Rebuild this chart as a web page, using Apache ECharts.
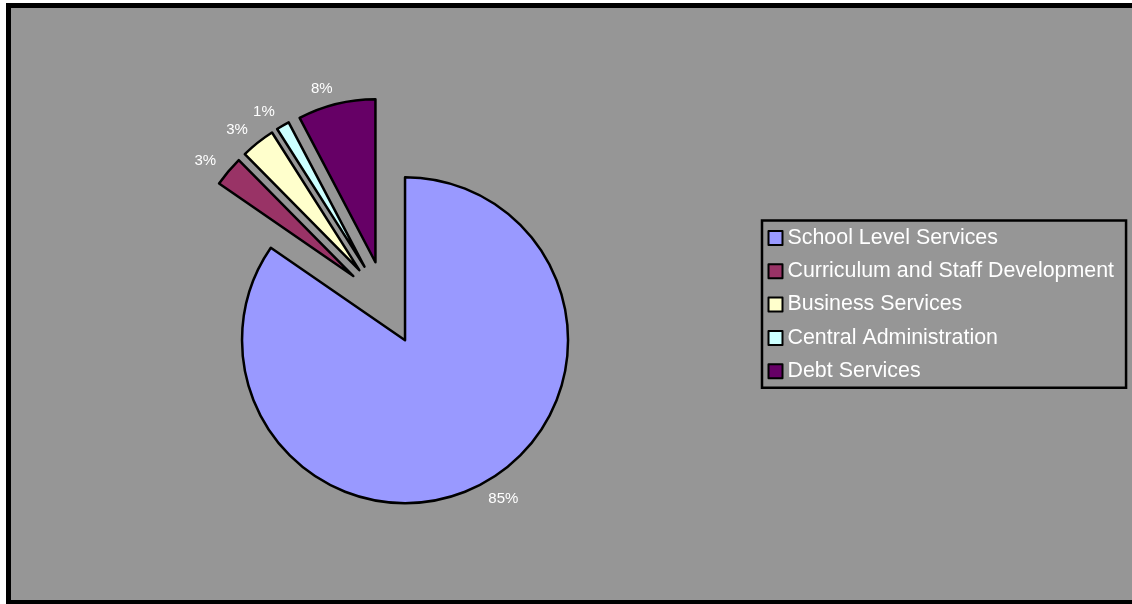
<!DOCTYPE html>
<html>
<head>
<meta charset="utf-8">
<title>Expenditure by Function</title>
<script src="https://cdn.jsdelivr.net/npm/echarts@6/dist/echarts.min.js"></script>
<style>
  html, body { margin: 0; padding: 0; background: #ffffff; }
  #chart { width: 1132px; height: 604px; }
</style>
</head>
<body>
<div id="chart"></div>
<script>
// Spending categories, in clockwise order from twelve o'clock
const categories = [
  'School Level Services',
  'Curriculum and Staff Development',
  'Business Services',
  'Central Administration',
  'Debt Services'
];

// Share of total spending (percent)
const shares = [84.6, 3.0, 3.4, 1.3, 7.7];

// Fill colour of each slice
const sliceColors = ['#9999ff', '#993366', '#ffffcc', '#ccffff', '#660066'];

const FONT = '"Liberation Sans", Arial, sans-serif';

const chart = echarts.init(document.getElementById('chart'), null, { renderer: 'canvas' });

const pieData = categories.map((name, i) => ({
  name: name,
  value: shares[i],
  selected: true,
  itemStyle: { color: sliceColors[i] }
}));

chart.setOption({
  animation: false,
  backgroundColor: '#ffffff',
  color: sliceColors,
  graphic: [{
    type: 'rect',
    z: 0,
    silent: true,
    shape: { x: 8.5, y: 5.5, width: 1130, height: 597 },
    style: { fill: '#969696', stroke: '#000000', lineWidth: 5 }
  }],
  legend: {
    orient: 'vertical',
    left: 762,
    top: 220.5,
    padding: [7, 12, 6, 5.5],
    itemGap: 12.3,
    itemWidth: 14,
    itemHeight: 14,
    icon: 'rect',
    borderColor: '#000000',
    borderWidth: 2.5,
    selectedMode: false,
    itemStyle: { borderColor: '#000000', borderWidth: 2 },
    textStyle: {
      color: '#ffffff',
      fontFamily: FONT,
      fontSize: 21.4,
      lineHeight: 21
    },
    data: categories
  },
  series: [{
    type: 'pie',
    center: [385.5, 303],
    radius: 163,
    startAngle: 90,
    clockwise: true,
    selectedMode: 'multiple',
    selectedOffset: 42,
    avoidLabelOverlap: false,
    emphasis: { disabled: true },
    itemStyle: { borderColor: '#000000', borderWidth: 2.5 },
    label: {
      show: true,
      position: 'outside',
      color: '#ffffff',
      fontFamily: FONT,
      fontSize: 15,
      distanceToLabelLine: 0,
      formatter: p => Math.round(p.percent) + '%'
    },
    labelLine: { show: false, length: 16, length2: 0 },
    data: pieData
  }]
});
</script>
</body>
</html>
